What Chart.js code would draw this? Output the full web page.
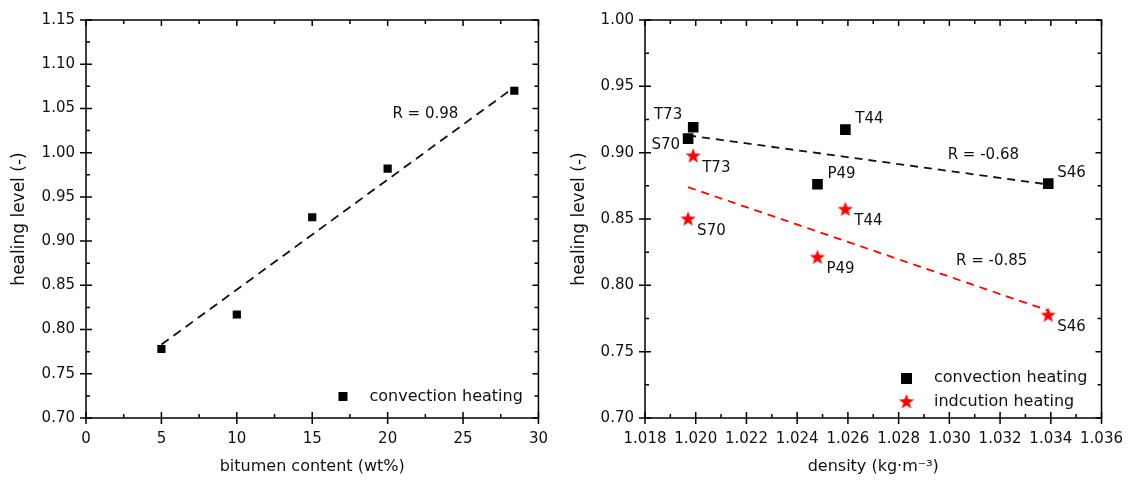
<!DOCTYPE html>
<html lang="en">
<head>
<meta charset="UTF-8">
<title>healing level charts</title>
<script src="https://cdn.jsdelivr.net/npm/chart.js"></script>
<style>
  html, body { margin: 0; padding: 0; background: #fff; }
  #wrap { position: relative; width: 1135px; height: 482px; }
  #leftChart { position: absolute; left: 0; top: 0; }
  #rightChart { position: absolute; left: 560px; top: 0; }
</style>
</head>
<body>
<div id="wrap">
  <canvas id="leftChart" width="560" height="482"></canvas>
  <canvas id="rightChart" width="575" height="482"></canvas>
</div>

<script>
// ---- left panel: healing level vs bitumen content
const bitumen = [5, 10, 15, 20, 28.4];
const healBitumen = [0.778, 0.817, 0.927, 0.982, 1.070];
const bitumenFitX = [5, 28.4];
const bitumenFitY = [0.783, 1.074];
const bitumenR = 'R = 0.98';

// ---- right panel: healing level vs density
const binders = ['T73', 'S70', 'T44', 'P49', 'S46'];
const density = [1.0199, 1.0197, 1.0259, 1.0248, 1.0339];
const healConvection = [0.9192, 0.9106, 0.9174, 0.8762, 0.8767];
const healInduction = [0.8973, 0.8498, 0.8571, 0.8209, 0.7773];
const densityFitX = [1.0197, 1.0339];
const convectionFitY = [0.913, 0.876];
const inductionFitY = [0.874, 0.781];
const convectionR = 'R = -0.68';
const inductionR = 'R = -0.85';

const legendNames = ['convection heating', 'indcution heating'];

// label offsets (px) next to each point
const convLabelPos = [[-11, -12, 'right'], [-8, 7, 'right'], [10, -10, 'left'], [10, -10, 'left'], [9, -10, 'left']];
const indLabelPos = [[9, 12, 'left'], [9, 12, 'left'], [9, 12, 'left'], [9, 12, 'left'], [9, 12, 'left']];

const FONT = 'DejaVu Sans';
const RED = '#ff0000';

function pts(xs, ys) {
  return xs.map((v, i) => ({x: v, y: ys[i]}));
}

// filled star used as point style
function makeStar(r) {
  const c = document.createElement('canvas');
  c.width = c.height = Math.ceil(r * 2 + 2);
  const g = c.getContext('2d');
  const cx = c.width / 2, cy = c.height / 2;
  g.beginPath();
  for (let i = 0; i < 10; i++) {
    const rad = i % 2 ? r * 0.42 : r;
    const a = -Math.PI / 2 + i * Math.PI / 5;
    g.lineTo(cx + rad * Math.cos(a), cy + rad * Math.sin(a));
  }
  g.closePath();
  g.fillStyle = RED;
  g.fill();
  return c;
}
const starImg = makeStar(8);

// frame with origin-style ticks (major in+out, minor in)
const framePlugin = {
  id: 'frame',
  afterDatasetsDraw(chart) {
    const {ctx, chartArea: a, scales: {x, y}} = chart;
    ctx.save();
    ctx.strokeStyle = '#000';
    ctx.lineWidth = 1.5;
    ctx.strokeRect(a.left, a.top, a.right - a.left, a.bottom - a.top);
    ctx.beginPath();
    const xt = x.ticks.map(t => x.getPixelForValue(t.value));
    const yt = y.ticks.map(t => y.getPixelForValue(t.value));
    xt.forEach((px, i) => {
      ctx.moveTo(px, a.bottom + 6); ctx.lineTo(px, a.bottom - 6);
      ctx.moveTo(px, a.top); ctx.lineTo(px, a.top + 6);
      if (i < xt.length - 1) {
        const m = (px + xt[i + 1]) / 2;
        ctx.moveTo(m, a.bottom); ctx.lineTo(m, a.bottom - 4);
        ctx.moveTo(m, a.top); ctx.lineTo(m, a.top + 4);
      }
    });
    yt.forEach((py, i) => {
      ctx.moveTo(a.left - 6, py); ctx.lineTo(a.left + 6, py);
      ctx.moveTo(a.right, py); ctx.lineTo(a.right - 6, py);
      if (i < yt.length - 1) {
        const m = (py + yt[i + 1]) / 2;
        ctx.moveTo(a.left, m); ctx.lineTo(a.left + 4, m);
        ctx.moveTo(a.right, m); ctx.lineTo(a.right - 4, m);
      }
    });
    ctx.stroke();
    ctx.restore();
  }
};

function textAt(ctx, txt, x, y, align, size) {
  ctx.font = size + 'px "' + FONT + '"';
  ctx.fillStyle = '#111';
  ctx.textAlign = align;
  ctx.textBaseline = 'middle';
  ctx.fillText(txt, x, y);
}

function axisX(min, max, step, digits, title) {
  return {
    type: 'linear', min: min, max: max,
    ticks: {stepSize: step, autoSkip: false, maxRotation: 0, padding: 12, color: '#111',
            font: {family: FONT, size: 15}, callback: v => v.toFixed(digits)},
    grid: {display: false, drawTicks: false},
    border: {display: false},
    title: {display: true, text: title, color: '#111', font: {family: FONT, size: 16}, padding: {top: 0, bottom: 6}},
    afterFit(s) { s.height = 64; }
  };
}
function axisY(width) {
  return {
    type: 'linear',
    ticks: {stepSize: 0.05, autoSkip: false, padding: 11, color: '#111',
            font: {family: FONT, size: 15}, callback: v => v.toFixed(2)},
    grid: {display: false, drawTicks: false},
    border: {display: false},
    title: {display: true, text: 'healing level (-)', color: '#111', font: {family: FONT, size: 17}, padding: {top: 9, bottom: 0}},
    afterFit(s) { s.width = width; }
  };
}

// ---------------- left chart
const leftY = axisY(86); leftY.min = 0.70; leftY.max = 1.15;
new Chart(document.getElementById('leftChart'), {
  type: 'scatter',
  data: {
    datasets: [
      {data: pts(bitumen, healBitumen), pointStyle: 'rect', pointRadius: 5.8, pointHoverRadius: 5.8,
       backgroundColor: '#000', borderColor: '#000', borderWidth: 0},
      {data: pts(bitumenFitX, bitumenFitY), showLine: true, pointRadius: 0, borderColor: '#111',
       borderWidth: 1.8, borderDash: [9, 6]}
    ]
  },
  options: {
    responsive: false, animation: false, devicePixelRatio: 1,
    layout: {padding: {left: 0, right: 14, top: 11, bottom: 0}},
    plugins: {legend: {display: false}, tooltip: {enabled: false}},
    scales: {x: axisX(0, 30, 5, 0, 'bitumen content (wt%)'), y: leftY}
  },
  plugins: [framePlugin, {
    id: 'notes',
    afterDraw(chart) {
      const {ctx, chartArea: a, scales: {x, y}} = chart;
      ctx.save();
      textAt(ctx, bitumenR, x.getPixelForValue(22.5), y.getPixelForValue(1.044), 'center', 15);
      ctx.fillStyle = '#000';
      ctx.fillRect(a.right - 200, a.bottom - 26, 9, 9);
      textAt(ctx, legendNames[0], a.right - 169, a.bottom - 21, 'left', 16);
      ctx.restore();
    }
  }]
});

// ---------------- right chart
const rightY = axisY(85); rightY.min = 0.70; rightY.max = 1.00;
new Chart(document.getElementById('rightChart'), {
  type: 'scatter',
  data: {
    datasets: [
      {data: pts(density, healConvection), pointStyle: 'rect', pointRadius: 7.5, pointHoverRadius: 7.5,
       backgroundColor: '#000', borderColor: '#000', borderWidth: 0},
      {data: pts(density, healInduction), pointStyle: starImg, pointRadius: 8},
      {data: pts(densityFitX, convectionFitY), showLine: true, pointRadius: 0, borderColor: '#111',
       borderWidth: 1.8, borderDash: [8, 6]},
      {data: pts(densityFitX, inductionFitY), showLine: true, pointRadius: 0, borderColor: RED,
       borderWidth: 1.8, borderDash: [8, 6]}
    ]
  },
  options: {
    responsive: false, animation: false, devicePixelRatio: 1,
    layout: {padding: {left: 0, right: 28, top: 11, bottom: 0}},
    plugins: {legend: {display: false}, tooltip: {enabled: false}},
    scales: {x: axisX(1.018, 1.036, 0.002, 3, 'density (kg\u00b7m\u207b\u00b3)'), y: rightY}
  },
  plugins: [framePlugin, {
    id: 'notes',
    afterDraw(chart) {
      const {ctx, chartArea: a, scales: {x, y}} = chart;
      ctx.save();
      binders.forEach((b, i) => {
        const px = x.getPixelForValue(density[i]);
        const c = convLabelPos[i], d = indLabelPos[i];
        textAt(ctx, b, px + c[0], y.getPixelForValue(healConvection[i]) + c[1], c[2], 15);
        textAt(ctx, b, px + d[0], y.getPixelForValue(healInduction[i]) + d[1], d[2], 15);
      });
      textAt(ctx, convectionR, x.getPixelForValue(1.03134), y.getPixelForValue(0.8983), 'center', 15);
      textAt(ctx, inductionR, x.getPixelForValue(1.03167), y.getPixelForValue(0.8179), 'center', 15);
      // legend
      ctx.fillStyle = '#000';
      ctx.fillRect(a.left + 256, a.bottom - 45, 11, 11);
      ctx.drawImage(starImg, a.left + 261.5 - starImg.width / 2, a.bottom - 16 - starImg.height / 2);
      textAt(ctx, legendNames[0], a.left + 289, a.bottom - 40, 'left', 16);
      textAt(ctx, legendNames[1], a.left + 289, a.bottom - 16, 'left', 16);
      ctx.restore();
    }
  }]
});
</script>
</body>
</html>
